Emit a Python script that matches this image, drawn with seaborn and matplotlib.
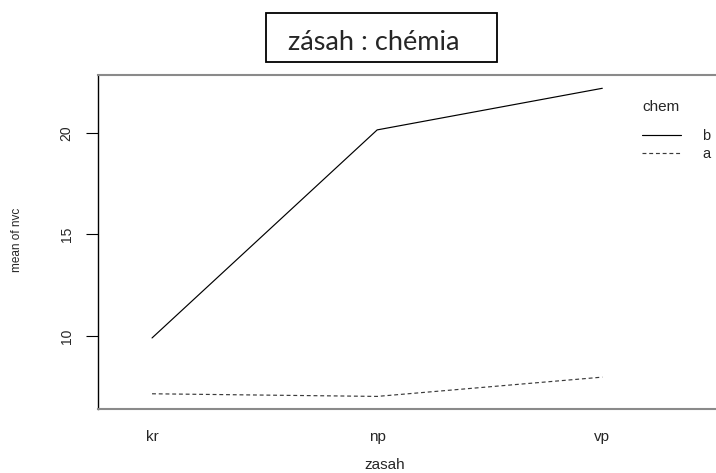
import matplotlib
matplotlib.use("Agg")
import matplotlib.pyplot as plt
from matplotlib.patches import Rectangle
import seaborn as sns
import pandas as pd

# Cell means of nvc for each treatment (zasah) and chemical (chem)
zasah = ["kr", "np", "vp"]
mean_b = [9.9, 20.15, 22.2]
mean_a = [7.15, 7.02, 7.97]
chem_order = ["b", "a"]
y_ticks = [10, 15, 20]

df = pd.DataFrame({
    "zasah": zasah * 2,
    "nvc": mean_b + mean_a,
    "chem": ["b"] * len(zasah) + ["a"] * len(zasah),
})

sns.set_style("white")
plt.rcParams["font.family"] = ["Liberation Sans", "DejaVu Sans"]

fig = plt.figure(figsize=(7.16, 4.73), dpi=100)
ax = fig.add_axes([98 / 716, 1 - 409 / 473, 1 - 98 / 716, (409 - 75.5) / 473])

sns.lineplot(
    data=df, x="zasah", y="nvc", style="chem", style_order=chem_order,
    dashes={"b": "", "a": (3.3, 2.4)}, color="black", linewidth=0.85,
    sort=False, ax=ax, legend=True,
)
for ln in ax.get_lines():
    if ln.get_linestyle() not in ("-", "solid"):
        ln.set_color("#3a3a3a")

ax.set_xlim(-0.24, 2.505)
ax.set_ylim(6.4, 22.83)
ax.set_yticks(y_ticks)
ax.set_yticklabels([str(t) for t in y_ticks], rotation=90, va="center", fontsize=10)
ax.tick_params(axis="y", direction="out", length=8.6, width=0.8, color="black", pad=9, left=True)
ax.tick_params(axis="x", length=0, pad=15, labelsize=11)

for side in ("top", "bottom"):
    ax.spines[side].set_color("#8a8a8a")
    ax.spines[side].set_linewidth(1.5)
ax.spines["left"].set_color("black")
ax.spines["left"].set_linewidth(1.0)
ax.spines["right"].set_visible(False)

ax.set_xlabel("zasah", fontsize=11)
ax.xaxis.label.set_verticalalignment("center")
ax.xaxis.set_label_coords((385 - 98) / 618, (409 - 465) / 333.5)
ax.set_ylabel("mean of nvc", fontsize=8.5)
ax.yaxis.label.set_verticalalignment("center")
ax.yaxis.set_label_coords((17 - 98) / 618, (409 - 240) / 333.5)

handles, labels = ax.get_legend_handles_labels()
if ax.legend_:
    ax.legend_.remove()
leg = fig.legend(
    handles, labels, title="chem", frameon=False, loc="upper left",
    bbox_to_anchor=(642 / 716, 1 - 100 / 473), fontsize=10.5, title_fontsize=11,
    handlelength=2.67, handletextpad=1.45, labelspacing=0.25, borderpad=0,
    borderaxespad=0, alignment="left",
)
leg._legend_box.sep = 11

# Boxed title
fig.patches.append(Rectangle((266 / 716, 1 - 62 / 473), (497 - 266) / 716, 49 / 473,
                             transform=fig.transFigure, fill=False,
                             edgecolor="black", linewidth=1.3))
fig.text(374 / 716, 1 - 42 / 473, "zásah : chémia", ha="center", va="center",
         fontsize=19.5, family=["Lato", "DejaVu Sans"])

fig.savefig("out.png", dpi=100)
